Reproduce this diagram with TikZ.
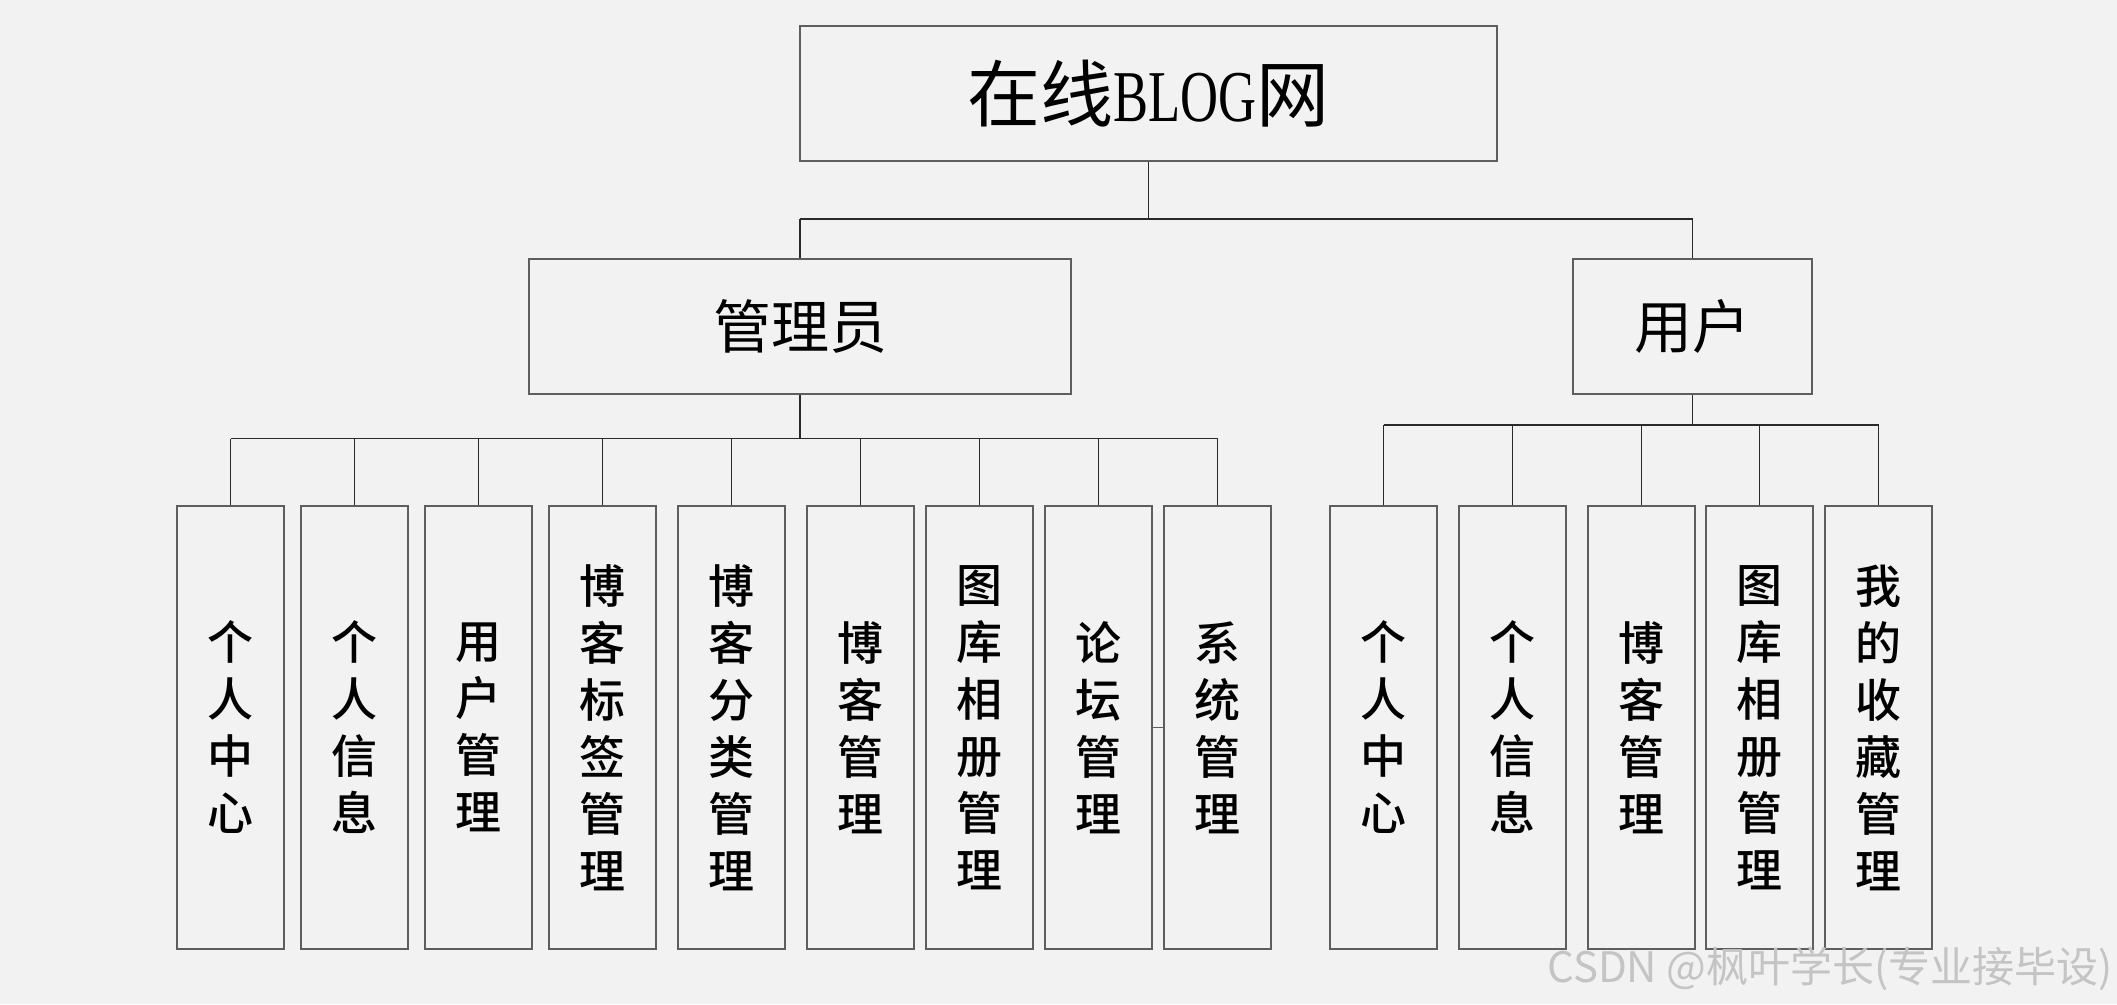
\documentclass[tikz,border=0pt]{standalone}
\usepackage{fontspec}
\setmainfont{Noto Sans CJK SC}[BoldFont={Noto Sans CJK SC Medium}]
\newfontfamily\latserif{Liberation Serif}
\definecolor{bg}{HTML}{F2F2F2}
\definecolor{edgec}{HTML}{5E5E5E}
\definecolor{wirec}{HTML}{2A2A2A}
\definecolor{wmc}{HTML}{C4C4C4}
\begin{document}
\begin{tikzpicture}[x=1pt,y=-1pt,
  box/.style={draw=edgec,line width=1.6pt,fill=bg,inner sep=0pt,anchor=center},
  leaf/.style={box,minimum width=107pt,minimum height=443pt,align=center,
    font=\fontsize{46}{57}\selectfont\bfseries},
  wire/.style={draw=wirec,line width=1.5pt}]
\fill[bg] (0,0) rectangle (2117,1004);
\useasboundingbox (0,0) rectangle (2117,1004);

\node[box,minimum width=697pt,minimum height=135pt,font=\fontsize{73}{80}\selectfont]
  (root) at (1148.5,93.5) {在线\scalebox{0.72}[1]{\latserif BLOG}网};
\node[box,minimum width=542pt,minimum height=135pt,font=\fontsize{58}{62}\selectfont]
  (adm) at (800,326.5) {管理员};
\node[box,minimum width=239pt,minimum height=135pt,font=\fontsize{58}{62}\selectfont]
  (usr) at (1692.5,326.5) {用户};

\node[leaf] (a1) at (230.5,727.5) {个\\人\\中\\心};
\node[leaf] (a2) at (354.5,727.5) {个\\人\\信\\息};
\node[leaf] (a3) at (478.5,727.5) {用\\户\\管\\理};
\node[leaf] (a4) at (602.5,727.5) {博\\客\\标\\签\\管\\理};
\node[leaf] (a5) at (731.5,727.5) {博\\客\\分\\类\\管\\理};
\node[leaf] (a6) at (860.5,727.5) {博\\客\\管\\理};
\node[leaf] (a7) at (979.5,727.5) {图\\库\\相\\册\\管\\理};
\node[leaf] (a8) at (1098.5,727.5) {论\\坛\\管\\理};
\node[leaf] (a9) at (1217.5,727.5) {系\\统\\管\\理};

\node[leaf] (u1) at (1383.5,727.5) {个\\人\\中\\心};
\node[leaf] (u2) at (1512.5,727.5) {个\\人\\信\\息};
\node[leaf] (u3) at (1641.5,727.5) {博\\客\\管\\理};
\node[leaf] (u4) at (1759.5,727.5) {图\\库\\相\\册\\管\\理};
\node[leaf] (u5) at (1878.5,727.5) {我\\的\\收\\藏\\管\\理};

\coordinate (busT) at (0,219);
\coordinate (busA) at (0,438.5);
\coordinate (busU) at (0,425);

\draw[wire] (root.south) -- (root.south |- busT);
\draw[wire] (adm.north |- busT) -- (usr.north |- busT);
\draw[wire] (adm.north |- busT) -- (adm.north);
\draw[wire] (usr.north |- busT) -- (usr.north);

\draw[wire] (adm.south) -- (adm.south |- busA);
\draw[wire] (a1.north |- busA) -- (a9.north |- busA);
\foreach \n in {a1,a2,a3,a4,a5,a6,a7,a8,a9}
  \draw[wire] (\n.north |- busA) -- (\n.north);

\draw[wire] (usr.south) -- (usr.south |- busU);
\draw[wire] (u1.north |- busU) -- (u5.north |- busU);
\foreach \n in {u1,u2,u3,u4,u5}
  \draw[wire] (\n.north |- busU) -- (\n.north);

\draw[draw=edgec,line width=1.5pt] (a8.east) -- (a9.west);

\node[anchor=east,text=wmc,inner sep=0pt,font=\fontsize{42}{44}\selectfont]
  (wm) at (2113,969) {CSDN @枫叶学长(专业接毕设)};
\end{tikzpicture}
\end{document}
